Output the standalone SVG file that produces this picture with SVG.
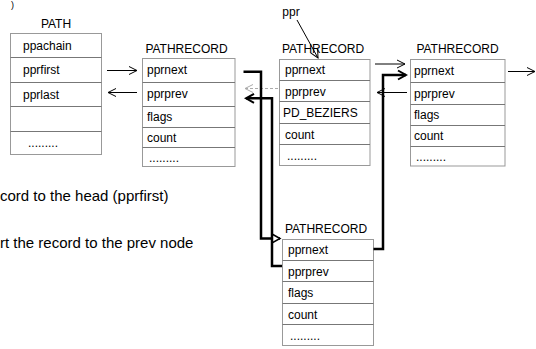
<svg xmlns="http://www.w3.org/2000/svg" width="536" height="349" viewBox="0 0 536 349">
<defs>
<style>
text{font-family:"Liberation Sans",Arial,sans-serif;font-size:12px;fill:#000}
.big{font-size:15px}
.tiny{font-size:9px}
.frame{fill:#fff;stroke:#999;stroke-width:1}
.sep{stroke:#777;stroke-width:1}
.thin{fill:none;stroke:#000;stroke-width:1}
.dash{fill:none;stroke:#aaa;stroke-width:1;stroke-dasharray:3 2}
.thick{fill:none;stroke:#000;stroke-width:2.5}
</style>
<marker id="open" markerWidth="10" markerHeight="10" refX="9" refY="5" orient="auto" markerUnits="userSpaceOnUse">
<path d="M1,1 L9,5 L1,9" fill="none" stroke="#000" stroke-width="1"/>
</marker>
<marker id="openGray" markerWidth="10" markerHeight="10" refX="9" refY="5" orient="auto" markerUnits="userSpaceOnUse">
<path d="M1,1 L9,5 L1,9" fill="none" stroke="#aaa" stroke-width="1"/>
</marker>
<marker id="thickV" markerWidth="12" markerHeight="12" refX="10" refY="6" orient="auto" markerUnits="userSpaceOnUse">
<path d="M2,1.5 L10,6 L2,10.5" fill="none" stroke="#000" stroke-width="2"/>
</marker>
<marker id="thickTri" markerWidth="12" markerHeight="12" refX="10" refY="6" orient="auto" markerUnits="userSpaceOnUse">
<path d="M2,1.5 L10,6 L2,10.5 Z" fill="#fff" stroke="#000" stroke-width="1.5"/>
</marker>
</defs>

<text class="tiny" x="11" y="8">)</text>
<text class="big" x="0" y="201">cord to the head (pprfirst)</text>
<text class="big" x="0" y="248">rt the record to the prev node</text>

<g id="path">
<text x="56" y="28" text-anchor="middle">PATH</text>
<rect class="frame" x="10.5" y="33.5" width="91" height="121"/>
<line class="sep" x1="10.5" y1="57.5" x2="101.5" y2="57.5"/>
<line class="sep" x1="10.5" y1="82.5" x2="101.5" y2="82.5"/>
<line class="sep" x1="10.5" y1="106.5" x2="101.5" y2="106.5"/>
<line class="sep" x1="10.5" y1="131.5" x2="101.5" y2="131.5"/>
<text x="23" y="50">ppachain</text>
<text x="23" y="74">pprfirst</text>
<text x="23" y="98.5">pprlast</text>
<text x="28" y="147">.........</text>
</g>

<g id="rec1">
<text x="186.5" y="53" text-anchor="middle">PATHRECORD</text>
<rect class="frame" x="142.5" y="58.5" width="92.5" height="108"/>
<line class="sep" x1="142.5" y1="82.5" x2="235" y2="82.5"/>
<line class="sep" x1="142.5" y1="106.5" x2="235" y2="106.5"/>
<line class="sep" x1="142.5" y1="127.5" x2="235" y2="127.5"/>
<line class="sep" x1="142.5" y1="147.5" x2="235" y2="147.5"/>
<text x="147" y="74">pprnext</text>
<text x="147" y="98">pprprev</text>
<text x="147" y="121">flags</text>
<text x="147" y="142">count</text>
<text x="149" y="162">.........</text>
</g>

<g id="rec2">
<text x="323" y="53" text-anchor="middle">PATHRECORD</text>
<rect class="frame" x="279.5" y="59.5" width="90.5" height="106"/>
<line class="sep" x1="279.5" y1="80.5" x2="370" y2="80.5"/>
<line class="sep" x1="279.5" y1="101.5" x2="370" y2="101.5"/>
<line class="sep" x1="279.5" y1="123.5" x2="370" y2="123.5"/>
<line class="sep" x1="279.5" y1="144.5" x2="370" y2="144.5"/>
<text x="285" y="74">pprnext</text>
<text x="285" y="95.5">pprprev</text>
<text x="283" y="117">PD_BEZIERS</text>
<text x="285" y="138.5">count</text>
<text x="287" y="160">.........</text>
</g>

<g id="rec3">
<text x="457.5" y="53" text-anchor="middle">PATHRECORD</text>
<rect class="frame" x="410.5" y="59.5" width="94.5" height="106.5"/>
<line class="sep" x1="410.5" y1="82.5" x2="505" y2="82.5"/>
<line class="sep" x1="410.5" y1="104.5" x2="505" y2="104.5"/>
<line class="sep" x1="410.5" y1="125.5" x2="505" y2="125.5"/>
<line class="sep" x1="410.5" y1="146.5" x2="505" y2="146.5"/>
<text x="414" y="75">pprnext</text>
<text x="414" y="97.5">pprprev</text>
<text x="414" y="119">flags</text>
<text x="414" y="140">count</text>
<text x="416" y="161">.........</text>
</g>

<g id="rec4">
<text x="326" y="233" text-anchor="middle">PATHRECORD</text>
<rect class="frame" x="282.5" y="239.5" width="91" height="106"/>
<line class="sep" x1="282.5" y1="260.5" x2="373.5" y2="260.5"/>
<line class="sep" x1="282.5" y1="281.5" x2="373.5" y2="281.5"/>
<line class="sep" x1="282.5" y1="303.5" x2="373.5" y2="303.5"/>
<line class="sep" x1="282.5" y1="324.5" x2="373.5" y2="324.5"/>
<text x="288" y="254">pprnext</text>
<text x="288" y="275.5">pprprev</text>
<text x="288" y="297">flags</text>
<text x="288" y="318.5">count</text>
<text x="290" y="340">.........</text>
</g>

<g id="ppr">
<text x="291" y="16" text-anchor="middle">ppr</text>
</g>

<g id="connectors">
<line class="thin" x1="107" y1="70.5" x2="137" y2="70.5" marker-end="url(#open)"/>
<line class="thin" x1="137" y1="92.5" x2="108" y2="92.5" marker-end="url(#open)"/>
<line class="dash" x1="278" y1="88.5" x2="245" y2="88.5" marker-end="url(#openGray)"/>
<line class="thin" x1="297" y1="20" x2="318" y2="58" marker-end="url(#open)"/>
<line class="thin" x1="375" y1="64" x2="405" y2="64" marker-end="url(#open)"/>
<line class="thin" x1="407" y1="92.5" x2="377" y2="92.5" marker-end="url(#open)"/>
<line class="thin" x1="508" y1="71.5" x2="535" y2="71.5" marker-end="url(#open)"/>
<path class="thick" d="M243.5,71.7 H261 V238.5 H280" marker-end="url(#thickTri)"/>
<path class="thick" d="M282,266 H272 V98.3 H246" marker-end="url(#thickV)"/>
<path class="thick" d="M373.5,249 H383 V75 H406" marker-end="url(#thickV)"/>
</g>
</svg>
